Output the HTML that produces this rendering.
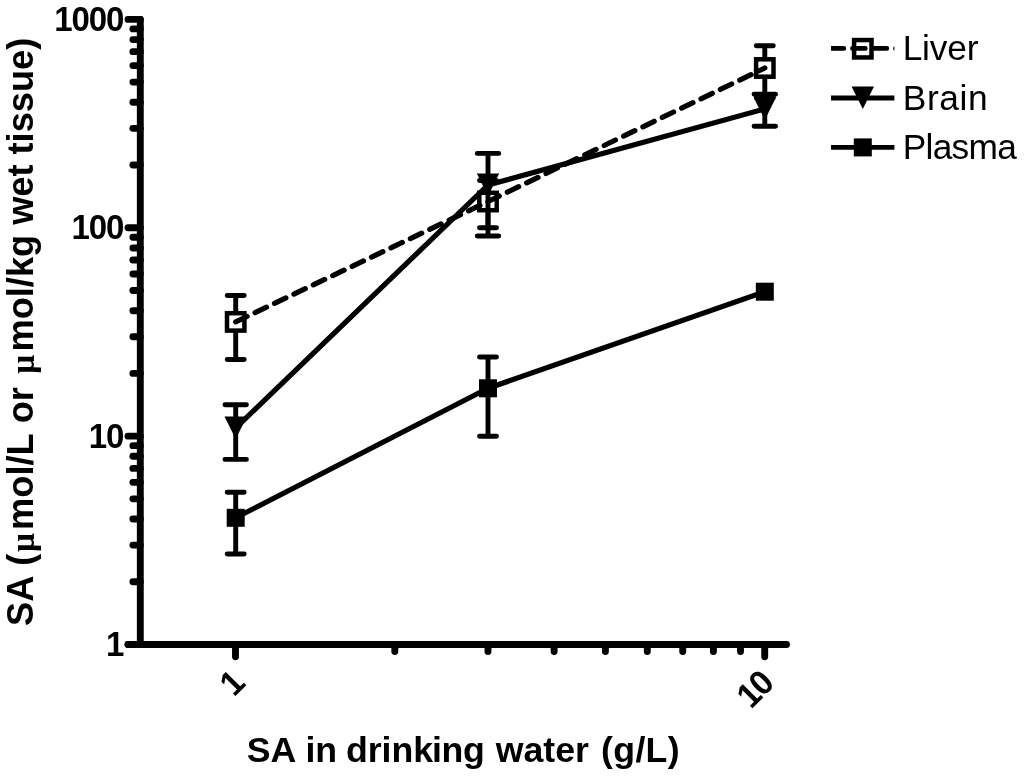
<!DOCTYPE html>
<html lang="en"><head><meta charset="utf-8"><title>SA chart</title>
<style>html,body{margin:0;padding:0;background:#fff}body{width:1024px;height:776px;overflow:hidden}svg{display:block}text{font-family:"Liberation Sans",Arial,Helvetica,sans-serif;fill:#000;font-kerning:none}.b{font-weight:bold}</style></head><body>
<svg width="1024" height="776" viewBox="0 0 1024 776">
<rect width="1024" height="776" fill="#fff"/>
<g stroke="#000" stroke-width="6.9" stroke-linecap="round" fill="none">
<path d="M140.3 19.39V644.5"/>
<path d="M128 644.5H786.5"/>
<path d="M128 644.50H140.3"/>
<path d="M132.9 581.77H140.3"/>
<path d="M132.9 545.08H140.3"/>
<path d="M132.9 519.05H140.3"/>
<path d="M132.9 498.86H140.3"/>
<path d="M132.9 482.36H140.3"/>
<path d="M132.9 468.41H140.3"/>
<path d="M132.9 456.32H140.3"/>
<path d="M132.9 445.66H140.3"/>
<path d="M128 436.13H140.3"/>
<path d="M132.9 373.40H140.3"/>
<path d="M132.9 336.71H140.3"/>
<path d="M132.9 310.68H140.3"/>
<path d="M132.9 290.49H140.3"/>
<path d="M132.9 273.99H140.3"/>
<path d="M132.9 260.04H140.3"/>
<path d="M132.9 247.95H140.3"/>
<path d="M132.9 237.29H140.3"/>
<path d="M128 227.76H140.3"/>
<path d="M132.9 165.03H140.3"/>
<path d="M132.9 128.34H140.3"/>
<path d="M132.9 102.31H140.3"/>
<path d="M132.9 82.12H140.3"/>
<path d="M132.9 65.62H140.3"/>
<path d="M132.9 51.67H140.3"/>
<path d="M132.9 39.58H140.3"/>
<path d="M132.9 28.92H140.3"/>
<path d="M128 19.39H140.3"/>
<path d="M235.50 644.5V656.8"/>
<path d="M764.70 644.5V656.8"/>
<path d="M394.81 644.5V651.5"/>
<path d="M487.99 644.5V651.5"/>
<path d="M554.11 644.5V651.5"/>
<path d="M605.39 644.5V651.5"/>
<path d="M647.30 644.5V651.5"/>
<path d="M682.73 644.5V651.5"/>
<path d="M713.42 644.5V651.5"/>
<path d="M740.49 644.5V651.5"/>
</g>
<text class="b" font-size="33" letter-spacing="-1.1" text-anchor="end" transform="translate(123.3 656.0) scale(1 1.05)">1</text>
<text class="b" font-size="33" letter-spacing="-1.1" text-anchor="end" transform="translate(123.3 447.6) scale(1 1.05)">10</text>
<text class="b" font-size="33" letter-spacing="-1.1" text-anchor="end" transform="translate(123.3 239.3) scale(1 1.05)">100</text>
<text class="b" font-size="33" letter-spacing="-1.1" text-anchor="end" transform="translate(123.3 30.9) scale(1 1.05)">1000</text>
<text class="b" font-size="33" letter-spacing="-1.1" text-anchor="end" transform="translate(246.1 685.4) rotate(-45) scale(1 1.05)">1</text>
<text class="b" font-size="33" letter-spacing="-1.1" text-anchor="end" transform="translate(775.3 685.4) rotate(-45) scale(1 1.05)">10</text>
<text class="b" font-size="35.7" y="761.7"><tspan x="246.7">SA</tspan> <tspan x="305.4">in</tspan> <tspan x="345.9">drink</tspan><tspan x="432.1" letter-spacing="-0.4">ing</tspan> <tspan x="495.7">water</tspan> <tspan x="601.1" letter-spacing="0.3">(g/L)</tspan></text>
<text class="b" font-size="36.2" transform="translate(32.9 0) rotate(-90)" y="0"><tspan x="-626.0">SA (</tspan><tspan x="-552.0" dy="1.2" font-family="'Liberation Serif',serif" font-size="33.5">μ</tspan><tspan x="-529.9" dy="-1.2">mol/L or </tspan><tspan x="-373.7" dy="1.2" font-family="'Liberation Serif',serif" font-size="33.5">μ</tspan><tspan x="-351.5" dy="-1.2">mol/kg wet tissue)</tspan></text>
<g stroke="#000" stroke-width="4.9" stroke-linecap="round" fill="none">
<path d="M235.7 295.5V359.5M227.2 295.5H244.2M227.2 359.5H244.2"/>
<path d="M488 180.5V227.7M479.5 180.5H496.5M479.5 227.7H496.5"/>
<path d="M764.8 45.7V97.7M756.3 45.7H773.3M756.3 97.7H773.3"/>
</g>
<rect x="227.00" y="313.20" width="17.4" height="17.4" fill="#fff" stroke="#000" stroke-width="4.5"/>
<rect x="479.30" y="192.80" width="17.4" height="17.4" fill="#fff" stroke="#000" stroke-width="4.5"/>
<rect x="756.10" y="59.30" width="17.4" height="17.4" fill="#fff" stroke="#000" stroke-width="4.5"/>
<polyline points="235.7 321.9 488 201.5 764.8 68" fill="none" stroke="#000" stroke-width="5.2" stroke-linecap="round" stroke-linejoin="round" stroke-dasharray="12.6 8.9"/>
<g stroke="#000" stroke-width="4.9" stroke-linecap="round" fill="none">
<path d="M235.7 404.7V459.4M224.95 404.7H246.45M224.95 459.4H246.45"/>
<path d="M488 153.4V236M477.25 153.4H498.75M477.25 236H498.75"/>
<path d="M764.8 94.3V126.2M754.05 94.3H775.55M754.05 126.2H775.55"/>
</g>
<path d="M224.5 416.6H246.9L235.7 439.0Z" fill="#000"/>
<path d="M476.8 173.6H499.2L488 196.0Z" fill="#000"/>
<path d="M753.6 97.5H776.0L764.8 119.9Z" fill="#000"/>
<polyline points="235.7 428 488 185 764.8 108.9" fill="none" stroke="#000" stroke-width="5.2" stroke-linecap="round" stroke-linejoin="round"/>
<g stroke="#000" stroke-width="4.9" stroke-linecap="round" fill="none">
<path d="M235.7 492.2V554M227.2 492.2H244.2M227.2 554H244.2"/>
<path d="M488 357V436.3M479.5 357H496.5M479.5 436.3H496.5"/>
</g>
<rect x="226.7" y="508.79999999999995" width="18" height="18" fill="#000"/>
<rect x="479" y="379.3" width="18" height="18" fill="#000"/>
<rect x="755.8" y="282.7" width="18" height="18" fill="#000"/>
<polyline points="235.7 517.8 488 388.3 764.8 291.7" fill="none" stroke="#000" stroke-width="5.2" stroke-linecap="round" stroke-linejoin="round"/>
<clipPath id="lc"><rect x="831" y="30" width="63.39999999999998" height="140"/></clipPath>
<rect x="854.10" y="40.05" width="17.4" height="17.4" fill="#fff" stroke="#000" stroke-width="4.5"/>
<path d="M831 48.4H900.4" stroke="#000" stroke-width="4.8" stroke-linecap="round" fill="none" stroke-dasharray="12.8 8.7" clip-path="url(#lc)"/>
<text x="902.7" y="60.4" font-size="35.3" letter-spacing="-0.2">Liver</text>
<path d="M851.6 86.6H874.0L862.8 109.0Z" fill="#000"/>
<path d="M831 98H894.4" stroke="#000" stroke-width="4.8" fill="none"/>
<text x="902.7" y="109.7" font-size="35.3" letter-spacing="0.65">Brain</text>
<rect x="853.8" y="138.4" width="18" height="18" fill="#000"/>
<path d="M831 147.4H894.4" stroke="#000" stroke-width="4.8" fill="none"/>
<text x="902.7" y="158.7" font-size="35.3" letter-spacing="-0.7">Plasma</text>
</svg></body></html>
